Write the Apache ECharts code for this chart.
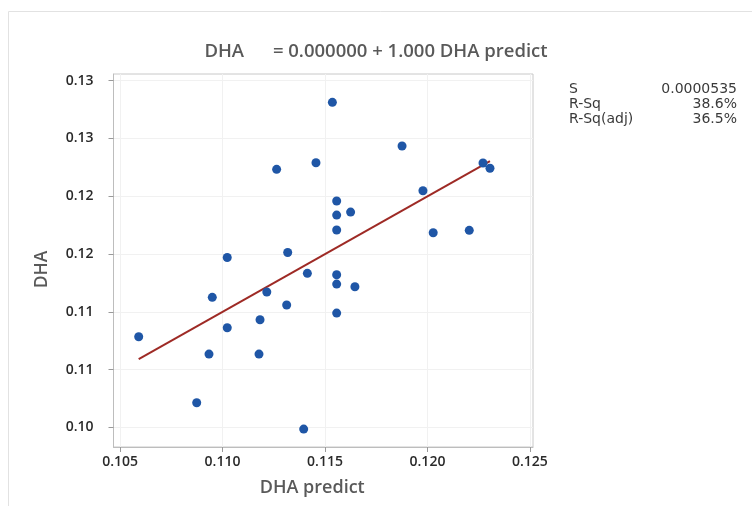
<!DOCTYPE html>
<html>
<head>
<meta charset="utf-8">
<script src="https://cdn.jsdelivr.net/npm/echarts@6/dist/echarts.min.js"></script>
<style>html,body{margin:0;padding:0;background:#fff}#c{width:752px;height:506px}</style>
</head>
<body>
<div id="c"></div>
<script>
// DHA predict (x) values
const dhaPredict = [0.11264,0.11456,0.11023,0.11318,0.11536,0.11876,0.12271,0.12305,0.11978,0.11557,
  0.11557,0.11625,0.11557,0.12028,0.12204,0.11414,0.10950,0.11216,0.11313,0.10591,
  0.11183,0.11023,0.10934,0.11178,0.10874,0.11396,0.11557,0.11557,0.11646,0.11557];
// DHA observed (y) values
const dha = [0.12233,0.12290,0.11470,0.11513,0.12813,0.12435,0.12288,0.12242,0.12048,0.11959,
  0.11837,0.11863,0.11708,0.11684,0.11705,0.11333,0.11125,0.11171,0.11059,0.10784,
  0.10931,0.10862,0.10634,0.10634,0.10213,0.09985,0.11321,0.11240,0.11217,0.10989];
const xTickValues = [0.105,0.110,0.115,0.120,0.125];
const xTickLabels = ["0.105","0.110","0.115","0.120","0.125"];
const yTickValues = [0.100,0.105,0.110,0.115,0.120,0.125,0.130];
const yTickLabels = ["0.10","0.11","0.11","0.12","0.12","0.13","0.13"];
const fitIntercept = 0.0;
const fitSlope = 1.0;
const statNames = ["S","R-Sq","R-Sq(adj)"];
const statValues = ["0.0000535","38.6%","36.5%"];

const points = dhaPredict.map((x,i)=>[x,dha[i]]);
const xmin = Math.min(...dhaPredict), xmax = Math.max(...dhaPredict);
const fitLine = [[xmin, fitIntercept + fitSlope*xmin],[xmax, fitIntercept + fitSlope*xmax]];

function labelFor(vals, labels){
  return function(v){
    for (let i=0;i<vals.length;i++){ if (Math.abs(vals[i]-v)<1e-9) return labels[i]; }
    return '';
  };
}

const font = "'Open Sans', 'Noto Sans', sans-serif";
const statFont = "'DejaVu Sans', sans-serif";
const chart = echarts.init(document.getElementById('c'), null, {renderer:'canvas'});

const graphics = [{
  type:'rect', left:6, top:9, z:-10, silent:true,
  shape:{x:0,y:0,width:800,height:600},
  style:{fill:'none', stroke:'#e2e2e2', lineWidth:1}
}];
const rowY = [90,105,120];
statNames.forEach((n,i)=>{
  graphics.push({type:'text', left:569, top:rowY[i]-8, style:{text:n, font:"14px "+statFont, fill:'#3a3a3a'}});
  graphics.push({type:'text', right:15, top:rowY[i]-8, style:{text:statValues[i], font:"14px "+statFont, fill:'#3a3a3a', textAlign:'right'}});
});

chart.setOption({
  animation:false,
  backgroundColor:'#fff',
  title:{
    text:'DHA      = 0.000000 + 1.000 DHA predict',
    left:'center', top:37,
    textStyle:{fontFamily:font, fontSize:18.5, fontWeight:600, color:'#595959'}
  },
  grid:{left:113.5, top:74, right:219, bottom:59, show:true, borderColor:'#c8c8c8', borderWidth:1, containLabel:false},
  xAxis:{
    type:'value', min:0.10468, max:0.12515,
    name:'DHA predict', nameLocation:'middle', nameGap:32,
    nameTextStyle:{fontFamily:font, fontSize:18, fontWeight:600, color:'#595959', padding:[0,22,0,0]},
    axisLine:{show:true, lineStyle:{color:'#bdbdbd'}},
    axisTick:{show:true, length:5, lineStyle:{color:'#9a9a9a'}, customValues:xTickValues},
    axisLabel:{customValues:xTickValues, formatter:labelFor(xTickValues,xTickLabels), margin:8,
      fontFamily:font, fontSize:14, color:'#2a2a2a', fontWeight:600},
    splitLine:{show:true, lineStyle:{color:'#f1f1f1', width:1}}
  },
  yAxis:{
    type:'value', min:0.0983, max:0.13058,
    name:'DHA', nameLocation:'middle', nameGap:62, nameRotate:90,
    nameTextStyle:{fontFamily:font, fontSize:17.5, fontWeight:600, color:'#595959', padding:[0,0,0,-18]},
    axisLine:{show:true, lineStyle:{color:'#bdbdbd'}},
    axisTick:{show:true, length:5, lineStyle:{color:'#9a9a9a'}, customValues:yTickValues},
    axisLabel:{customValues:yTickValues, formatter:labelFor(yTickValues,yTickLabels), margin:20,
      fontFamily:font, fontSize:14, color:'#2a2a2a', fontWeight:600},
    splitLine:{show:true, lineStyle:{color:'#f1f1f1', width:1}}
  },
  series:[
    {type:'line', data:fitLine, symbol:'none', lineStyle:{color:'#9e2a25', width:2}, z:3, silent:true},
    {type:'scatter', data:points, symbol:'circle', symbolSize:9, itemStyle:{color:'#1f56a6', opacity:1}, z:4}
  ],
  graphic:graphics
});
</script>
</body>
</html>
